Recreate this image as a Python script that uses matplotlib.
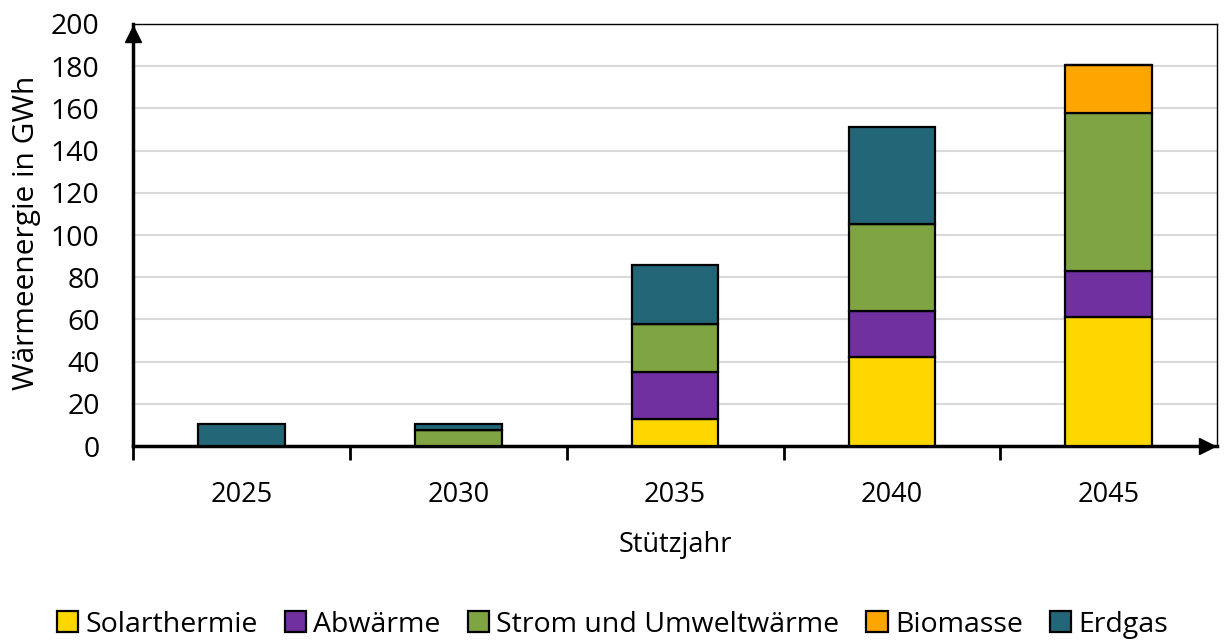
import numpy as np
import matplotlib.pyplot as plt
from matplotlib.transforms import ScaledTranslation

plt.rcParams['font.family'] = ['Open Sans', 'DejaVu Sans']

years = ['2025', '2030', '2035', '2040', '2045']
solarthermie = [0, 0, 13, 42, 61]
abwaerme = [0, 0, 22, 22, 22]
strom_umwelt = [0, 7.5, 23, 41, 75]
biomasse = [0, 0, 0, 0, 22.5]
erdgas = [10.5, 3, 28, 46, 0]

series = [
    ('Solarthermie', solarthermie, '#FFD700'),
    ('Abwärme', abwaerme, '#7030A0'),
    ('Strom und Umweltwärme', strom_umwelt, '#7FA543'),
    ('Biomasse', biomasse, '#FFA500'),
    ('Erdgas', erdgas, '#226677'),
]

fig = plt.figure(figsize=(12.25, 6.4), dpi=100)
ax = fig.add_axes([0.1086, 0.303, 0.885, 0.6595])

x = np.arange(len(years))
bottom = np.zeros(len(years))
for name, vals, col in series:
    vals = np.array(vals, dtype=float)
    ax.bar(x, vals, 0.4, bottom=bottom, color=col, edgecolor='black',
           linewidth=1.6, label=name, zorder=3)
    bottom += vals

ax.set_xlim(-0.5, 4.5)
ax.set_ylim(0, 200)
ax.set_yticks(np.arange(0, 201, 20))
ax.yaxis.grid(True, color='#d9d9d9', linewidth=1.5, zorder=0)

ax.set_xticks(x)
ax.set_xticklabels(years)
ax.set_xticks(np.arange(-0.5, 4.5, 1), minor=True)
ax.tick_params(axis='x', which='major', length=0, pad=25, labelsize=19.5)
ax.tick_params(axis='x', which='minor', length=10, width=2, direction='out')
ax.tick_params(axis='y', length=0, pad=24, labelsize=20.5)

for s in ['left', 'bottom']:
    ax.spines[s].set_linewidth(2.5)
for s in ['top', 'right']:
    ax.spines[s].set_linewidth(1)

# arrow heads on both axes
off_up = ScaledTranslation(0, -7 / 72, fig.dpi_scale_trans)
ax.plot([0], [1], marker='^', color='black', markersize=12, clip_on=False,
        transform=ax.transAxes + off_up, zorder=5)
off_right = ScaledTranslation(-7 / 72, 0, fig.dpi_scale_trans)
ax.plot([1], [0], marker='>', color='black', markersize=12, clip_on=False,
        transform=ax.transAxes + off_right, zorder=5)

ax.set_xlabel('Stützjahr', fontsize=19.5, labelpad=16)
ax.set_ylabel('Wärmeenergie in GWh', fontsize=21.5)
ax.yaxis.set_label_coords(-0.085, 0.505)

handles, labels = ax.get_legend_handles_labels()
fig.legend(handles, labels, loc='center', bbox_to_anchor=(0.5, 0.024), ncol=5,
           frameon=False, fontsize=20.5, handlelength=0.75, handleheight=0.75,
           handletextpad=0.25, columnspacing=0.95)

fig.savefig('out.png', dpi=100)
